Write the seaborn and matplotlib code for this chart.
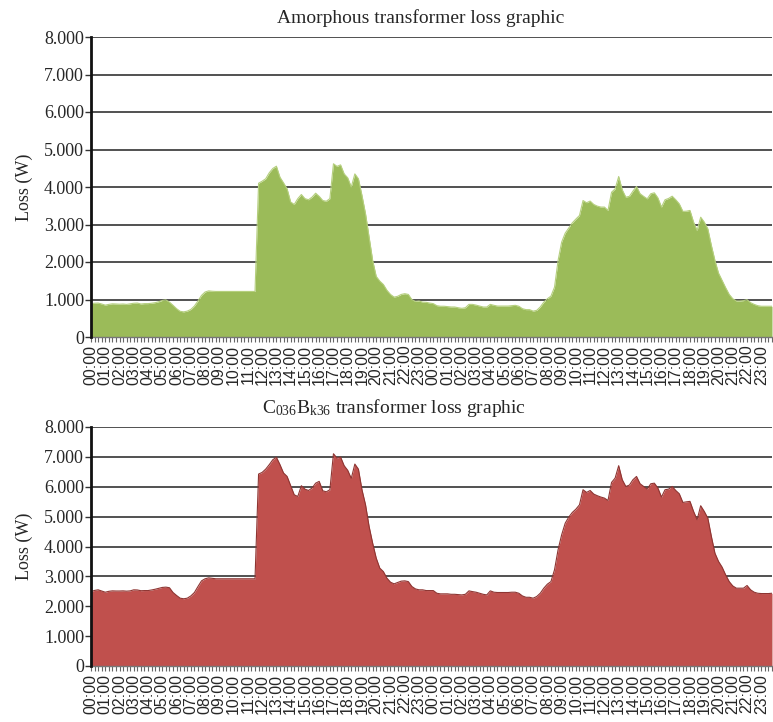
import numpy as np
import pandas as pd
import matplotlib
matplotlib.use("Agg")
import matplotlib.pyplot as plt
from matplotlib.ticker import FixedLocator, FuncFormatter
import seaborn as sns

# 15-minute samples over two days (00:00 day 1 ... 23:45 day 2)
hours = [f"{h:02d}:00" for h in range(24)] * 2

amorphous_loss = [
    890, 900, 905, 880, 850, 870, 885, 880, 875, 880, 870, 885,
    900, 905, 880, 890, 890, 900, 915, 940, 975, 990, 930, 845,
    755, 685, 670, 690, 735, 825, 960, 1110, 1200, 1230, 1220, 1215,
    1215, 1215, 1215, 1215, 1215, 1215, 1215, 1215, 1215, 1215, 1215, 4100,
    4155, 4220, 4380, 4495, 4555, 4260, 4110, 3950, 3600, 3535, 3690, 3800,
    3690, 3660, 3730, 3835, 3750, 3640, 3620, 3690, 4620, 4550, 4590, 4350,
    4245, 4000, 4350, 4220, 3775, 3285, 2665, 2040, 1615, 1490, 1400, 1245,
    1135, 1065, 1085, 1135, 1155, 1135, 995, 950, 960, 930, 925, 905,
    890, 835, 820, 820, 810, 800, 800, 780, 765, 780, 870, 870,
    850, 825, 800, 800, 870, 845, 825, 825, 825, 825, 835, 845,
    820, 755, 730, 730, 690, 710, 800, 930, 1020, 1090, 1330, 2040,
    2530, 2770, 2910, 3045, 3145, 3240, 3640, 3580, 3625, 3535, 3490, 3465,
    3465, 3375, 3860, 3950, 4280, 3925, 3730, 3750, 3890, 4015, 3820, 3750,
    3685, 3820, 3845, 3710, 3465, 3660, 3695, 3755, 3660, 3550, 3350, 3355,
    3375, 3065, 2840, 3195, 3065, 2885, 2440, 2040, 1705, 1510, 1315, 1135,
    1020, 960, 960, 970, 995, 915, 870, 835, 820, 820, 820, 820,
]

c036_loss = [
    2490, 2530, 2550, 2510, 2470, 2500, 2515, 2510, 2510, 2515, 2505, 2515,
    2550, 2545, 2520, 2525, 2525, 2545, 2570, 2600, 2630, 2640, 2620, 2460,
    2360, 2270, 2250, 2270, 2345, 2460, 2660, 2850, 2920, 2950, 2935, 2920,
    2920, 2920, 2920, 2920, 2920, 2920, 2920, 2920, 2920, 2920, 2920, 6425,
    6480, 6590, 6740, 6905, 6985, 6740, 6460, 6345, 6035, 5730, 5675, 6035,
    5920, 5875, 5955, 6120, 6180, 5865, 5830, 5900, 7105, 6960, 6995, 6705,
    6550, 6280, 6760, 6590, 5900, 5395, 4670, 4110, 3610, 3275, 3160, 2940,
    2805, 2750, 2795, 2840, 2850, 2825, 2660, 2580, 2550, 2550, 2525, 2525,
    2525, 2435, 2415, 2415, 2415, 2400, 2400, 2390, 2380, 2400, 2515, 2490,
    2470, 2435, 2400, 2380, 2515, 2470, 2460, 2460, 2460, 2460, 2470, 2470,
    2435, 2345, 2300, 2300, 2270, 2325, 2435, 2605, 2740, 2825, 3220, 3890,
    4390, 4780, 4985, 5140, 5250, 5395, 5900, 5810, 5875, 5755, 5700, 5655,
    5620, 5540, 6145, 6290, 6705, 6235, 6010, 6055, 6235, 6345, 6100, 6010,
    5920, 6100, 6120, 5955, 5655, 5900, 5920, 6010, 5875, 5765, 5475, 5495,
    5510, 5175, 4895, 5365, 5175, 4950, 4335, 3775, 3500, 3310, 3050, 2825,
    2680, 2605, 2605, 2605, 2695, 2550, 2470, 2435, 2425, 2425, 2425, 2435,
]

titles = [
    "Amorphous transformer loss graphic",
    r"C$_{\mathrm{036}}$B$_{\mathrm{k36}}$ transformer loss graphic",
]
fill_colors = ["#9BBB59", "#C0504D"]
edge_colors = ["#B5CF7E", "#8E3532"]

sns.set_style("white")
plt.rcParams["font.family"] = ["Liberation Serif", "DejaVu Serif"]
plt.rcParams["mathtext.fontset"] = "custom"
plt.rcParams["mathtext.rm"] = "Liberation Serif"
plt.rcParams["mathtext.it"] = "Liberation Serif:italic"

fig = plt.figure(figsize=(7.73, 7.22), dpi=100)
W, H = 773, 722
boxes = [
    (91 / W, 1 - 337 / H, 681 / W, 300 / H),
    (91 / W, 1 - 666 / H, 681 / W, 239 / H),
]
title_pos = [(421 / W, 1 - 18 / H), (394 / W, 1 - 408 / H)]

n = len(amorphous_loss)
for k, (series, box) in enumerate(zip([amorphous_loss, c036_loss], boxes)):
    ax = fig.add_axes(box)
    df = pd.DataFrame({"t": np.arange(n), "loss": series})
    ax.fill_between(df["t"], 0, df["loss"], color=fill_colors[k], lw=0, zorder=2)
    sns.lineplot(data=df, x="t", y="loss", ax=ax, color=edge_colors[k],
                 lw=0.8, zorder=3)

    ax.set_xlim(0, n - 1)
    ax.set_ylim(0, 8000)
    ax.set_yticks(np.arange(0, 8001, 1000))
    ax.yaxis.set_major_formatter(FuncFormatter(
        lambda v, p: "0" if v == 0 else f"{v / 1000:.3f}"))
    ax.grid(axis="y", color="#222222", lw=1.1, zorder=1)
    ax.set_axisbelow(True)

    ax.xaxis.set_major_locator(FixedLocator(np.arange(0, n, 4)))
    ax.xaxis.set_minor_locator(FixedLocator(np.arange(0, n, 1)))
    ax.set_xticklabels(hours, rotation=90, family=["Liberation Sans"],
                       fontsize=11.5)
    ax.tick_params(axis="x", which="both", direction="out", length=3.5,
                   width=0.8, color="#666666", pad=2, bottom=True)
    ax.tick_params(axis="y", direction="out", length=4, width=1,
                   color="#333333", labelsize=13, pad=1, left=True)

    for s in ["top", "right"]:
        ax.spines[s].set_visible(False)
    ax.spines["left"].set_color("#111111")
    ax.spines["left"].set_linewidth(2)
    ax.spines["left"].set_zorder(5)
    ax.spines["bottom"].set_color("#777777")
    ax.spines["bottom"].set_linewidth(1)

    ax.set_xlabel("")
    ax.set_ylabel("Loss (W)", fontsize=13, labelpad=8)
    fig.text(title_pos[k][0], title_pos[k][1], titles[k], ha="center",
             va="center", fontsize=14)

fig.savefig("out.png", dpi=100)
